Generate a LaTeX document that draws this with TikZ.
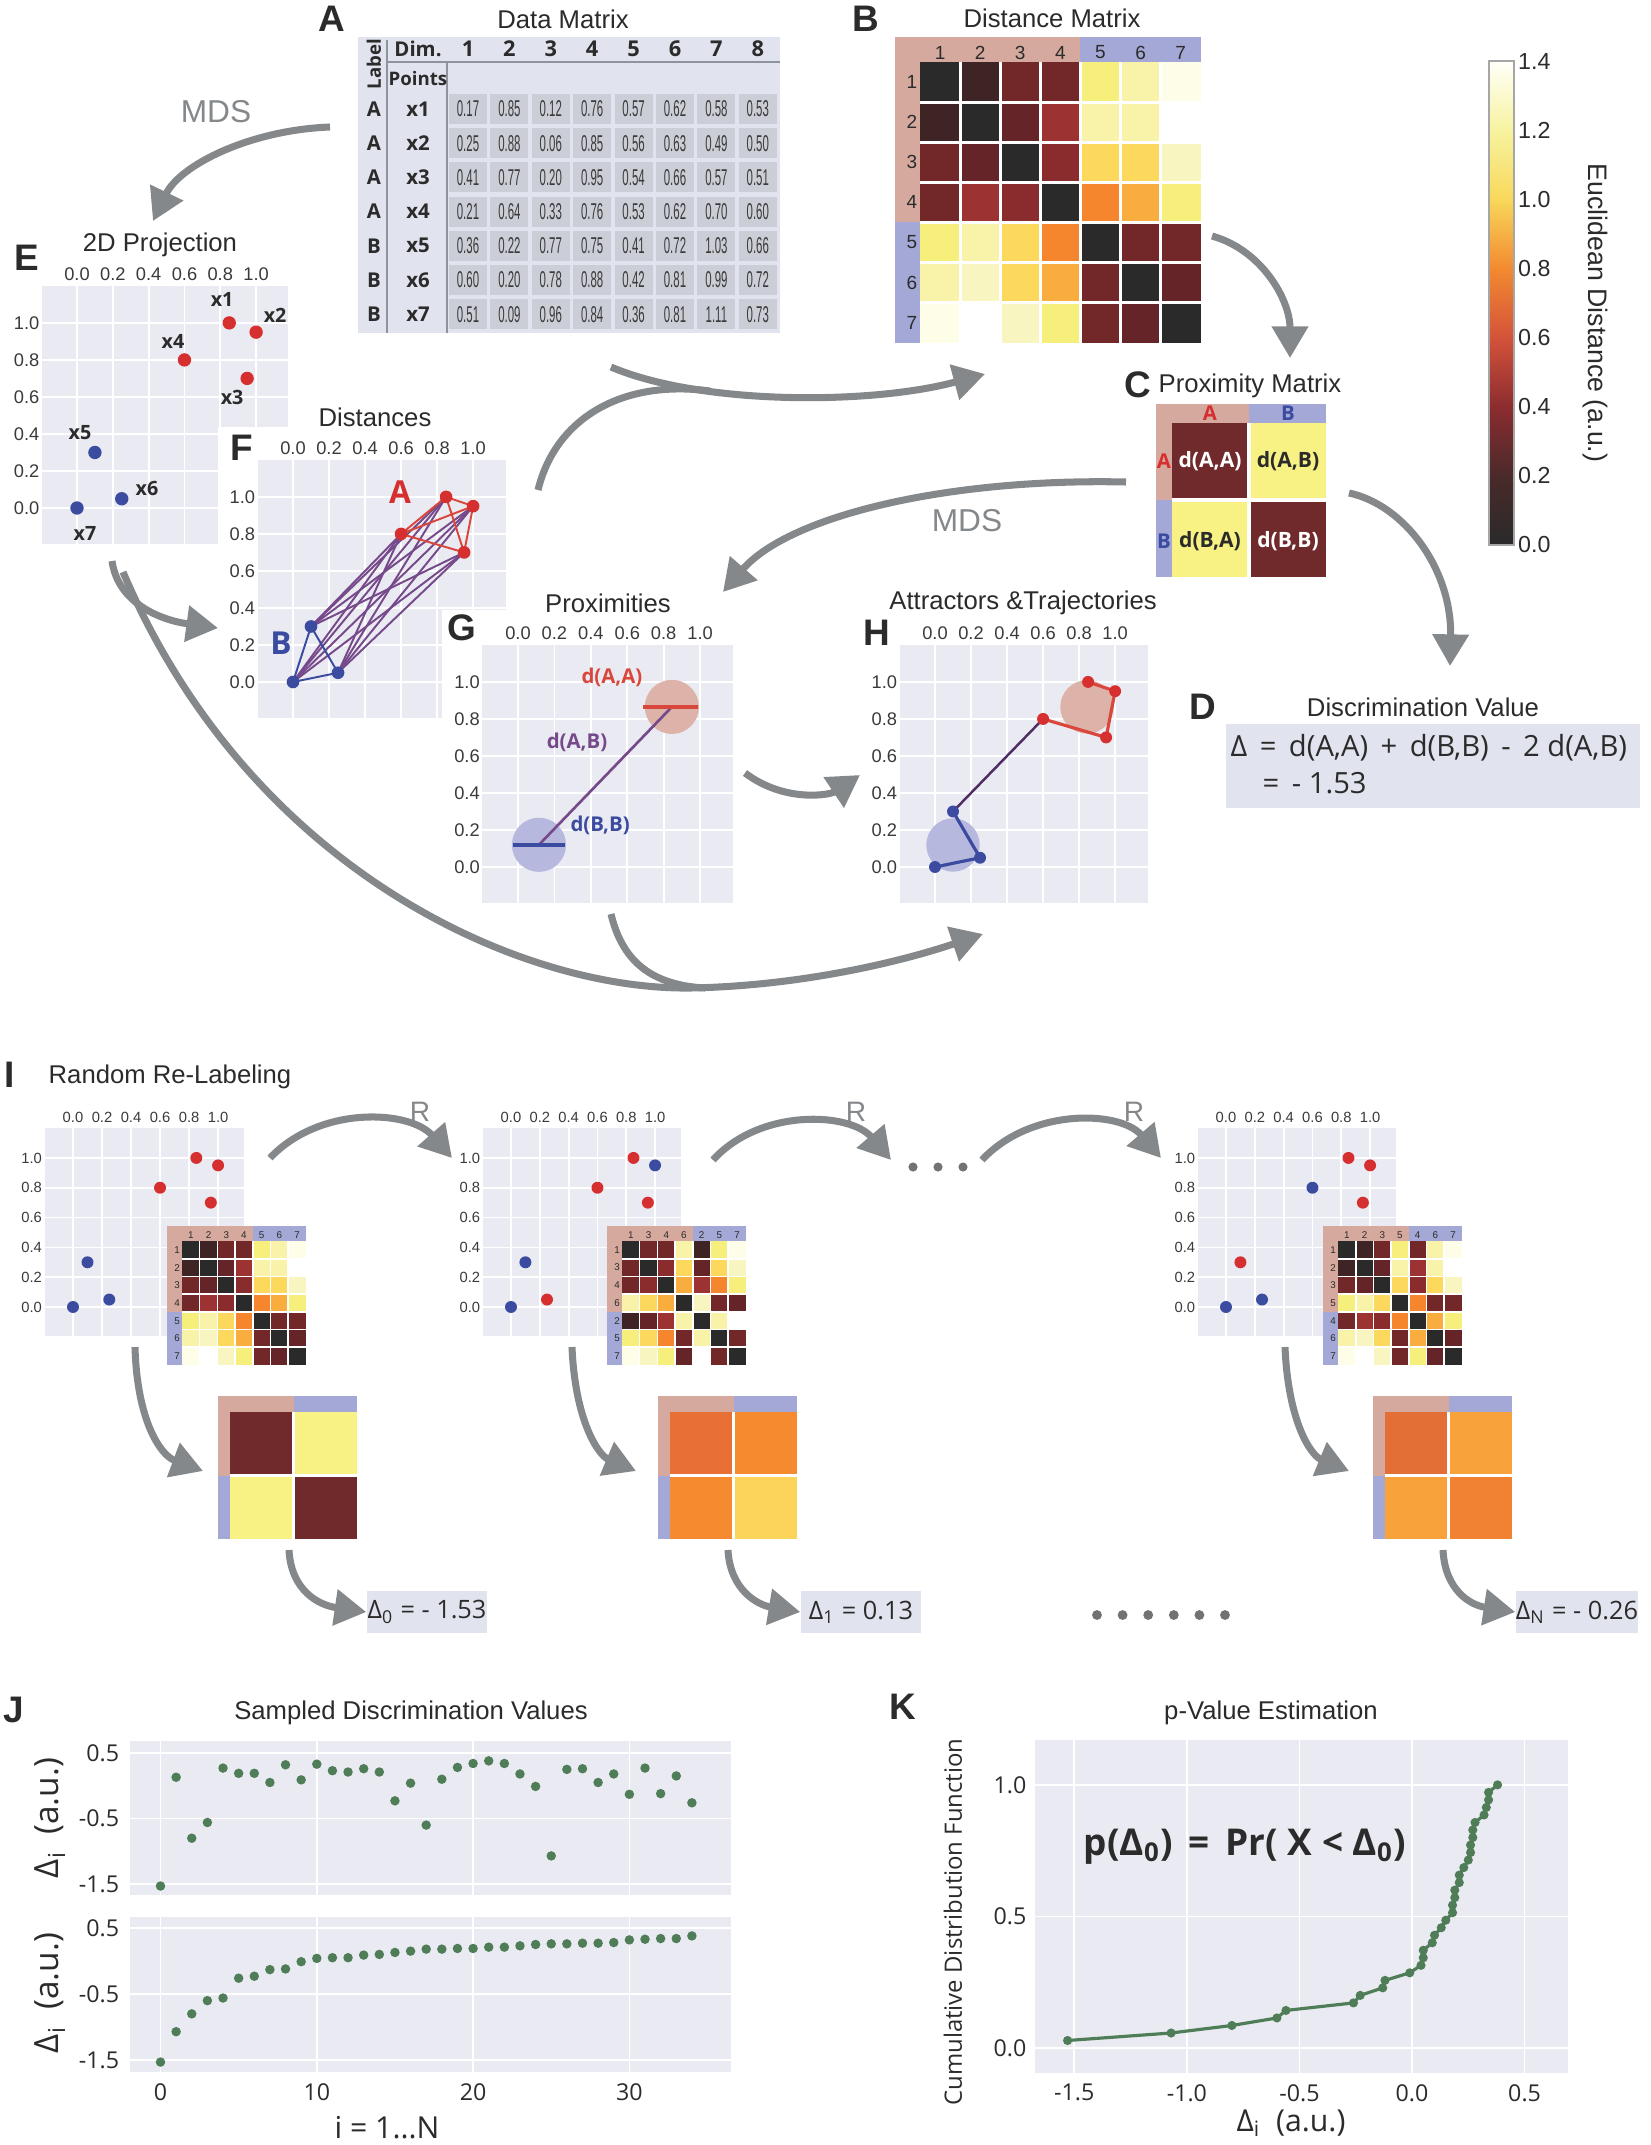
\documentclass[tikz,border=0pt]{standalone}
\usepackage{fontspec}
\setmainfont{Liberation Sans}
\newfontfamily\labfont{Open Sans}
\newfontfamily\numfont[FakeStretch=0.5]{Liberation Sans}
\usetikzlibrary{positioning,calc,arrows.meta}

\newcommand\fsz[1]{\fontsize{#1}{#1}\selectfont}

% general colours
\definecolor{inkgray}{HTML}{2B2B2B}
\definecolor{ticktext}{HTML}{3A3A3A}
\definecolor{arrowgray}{HTML}{85888B}
\definecolor{plotbg}{HTML}{EAEAF2}
\definecolor{tablebg}{HTML}{E1E4EE}
\definecolor{cellgray}{HTML}{CBCED6}
\definecolor{rulegray}{HTML}{8E939E}
\definecolor{bandA}{HTML}{D6A99E}
\definecolor{bandB}{HTML}{A4A8D6}
\definecolor{grpA}{HTML}{D62F2F}
\definecolor{grpB}{HTML}{3A4BA0}
\definecolor{edgeA}{HTML}{D9463B}
\definecolor{linkAB}{HTML}{75498A}
\definecolor{linkdark}{HTML}{4F2D64}
\definecolor{haloA}{HTML}{DDB3A9}
\definecolor{haloB}{HTML}{B7B8DE}
\definecolor{samplegreen}{HTML}{4E7D58}
\definecolor{boxgray}{HTML}{E1E4EE}
\definecolor{dotgray}{HTML}{707274}
% heat map colours
\definecolor{k0}{HTML}{2A2A2A}
\definecolor{k1}{HTML}{3E2424}
\definecolor{k2}{HTML}{652428}
\definecolor{k3}{HTML}{722829}
\definecolor{k4}{HTML}{8A2C2E}
\definecolor{k5}{HTML}{9D3232}
\definecolor{o1}{HTML}{F5862E}
\definecolor{o2}{HTML}{F9AD3E}
\definecolor{g1}{HTML}{FCD95C}
\definecolor{y1}{HTML}{F7EF7C}
\definecolor{y2}{HTML}{F8F3A8}
\definecolor{y3}{HTML}{F9F5C0}
\definecolor{w1}{HTML}{FDFDE8}
\definecolor{w0}{HTML}{FFFFFF}
\definecolor{pmMaroon}{HTML}{702A2C}
\definecolor{pmYellow}{HTML}{F7F283}
\definecolor{pmOa}{HTML}{E87035}
\definecolor{pmOb}{HTML}{F58A2F}
\definecolor{pmGold}{HTML}{FDD45A}
\definecolor{pmOc}{HTML}{E36E36}
\definecolor{pmOd}{HTML}{F7A23A}
\definecolor{pmOe}{HTML}{F08232}
% colour bar stops
\definecolor{cb0}{HTML}{2A2A2A}
\definecolor{cb1}{HTML}{4A2A2A}
\definecolor{cb2}{HTML}{8C2C30}
\definecolor{cb3}{HTML}{D4533A}
\definecolor{cb4}{HTML}{F28A30}
\definecolor{cb5}{HTML}{F8D85A}
\definecolor{cb6}{HTML}{F7F3A0}
\definecolor{cb7}{HTML}{FFFFFA}

% distance matrix entries
\newcommand\setdmrow[8]{\colorlet{dm#11}{#2}\colorlet{dm#12}{#3}\colorlet{dm#13}{#4}%
  \colorlet{dm#14}{#5}\colorlet{dm#15}{#6}\colorlet{dm#16}{#7}\colorlet{dm#17}{#8}}
\setdmrow{1}{k0}{k1}{k3}{k3}{y1}{y2}{w1}
\setdmrow{2}{k1}{k0}{k2}{k5}{y2}{y2}{w0}
\setdmrow{3}{k3}{k2}{k0}{k4}{g1}{g1}{y3}
\setdmrow{4}{k3}{k5}{k4}{k0}{o1}{o2}{y1}
\setdmrow{5}{y1}{y2}{g1}{o1}{k0}{k3}{k3}
\setdmrow{6}{y2}{y3}{g1}{o2}{k3}{k0}{k2}
\setdmrow{7}{w1}{w0}{y3}{y1}{k3}{k2}{k0}

\def\rawvals{-1.53,0.13,-0.80,-0.56,0.27,0.19,0.19,0.05,0.32,0.09,0.33,0.23,0.21,0.26,0.21,-0.23,0.04,-0.60,0.10,0.28,0.34,0.38,0.34,0.18,-0.01,-1.07,0.25,0.26,0.05,0.18,-0.13,0.27,-0.12,0.15,-0.26}
\def\sortedvals{-1.53,-1.07,-0.80,-0.60,-0.56,-0.26,-0.23,-0.13,-0.12,-0.01,0.04,0.05,0.05,0.09,0.10,0.13,0.15,0.18,0.18,0.19,0.19,0.21,0.21,0.23,0.25,0.26,0.26,0.27,0.27,0.28,0.32,0.33,0.34,0.34,0.38}

\tikzset{
  paneltag/.style={font={\fsz{10.5}\bfseries}, text=inkgray, inner sep=0pt},
  paneltitle/.style={font=\fsz{7.3}, text=inkgray, inner sep=0pt},
  ticklab/.style={text=ticktext, inner sep=0.6pt},
  gridline/.style={white, line width=0.5pt},
  tabhead/.style={font={\labfont\bfseries\fsz{5.8}}, text=inkgray, inner sep=0pt},
  tabcell/.style={fill=cellgray, minimum width=0.38cm, minimum height=0.30cm, inner sep=0pt,
    font={\numfont\fsz{6.5}}, text=ticktext},
  matlab/.style={text=inkgray, inner sep=0pt},
  grplab/.style={font={\labfont\bfseries\fsz{5.8}}, inner sep=0pt},
  celltext/.style={font={\labfont\bfseries\fsz{6}}, inner sep=0pt},
  ptlab/.style={font={\labfont\bfseries\fsz{5.6}}, text=inkgray, inner sep=0pt},
  distlab/.style={font={\labfont\bfseries\fsz{5.8}}, inner sep=0pt},
  flow/.style={draw=arrowgray, line width=2pt, -{Triangle[length=9pt,width=10pt]}},
  flowline/.style={draw=arrowgray, line width=2pt},
  steplab/.style={font=\fsz{8}, text=arrowgray, inner sep=0pt},
  deltabox/.style={fill=boxgray, inner sep=0pt, minimum width=1.2cm, minimum height=0.42cm,
    font={\labfont\fsz{7.2}}, text=inkgray},
  axlab/.style={font={\labfont\fsz{6.6}}, text=inkgray, inner sep=0pt},
  axtitle/.style={font={\labfont\fsz{8.6}}, text=inkgray, inner sep=0pt},
}

% frame of a small scatter panel, in data units
\newcommand\plotframe[1]{%
  \fill[plotbg] (-0.195,-0.195) rectangle (1.18,1.2);
  \foreach \tk in {0,0.2,0.4,0.6,0.8,1} {
    \draw[gridline] (\tk,-0.195) -- (\tk,1.2);
    \draw[gridline] (-0.195,\tk) -- (1.18,\tk);}
  \foreach \tk/\tx in {0/0.0,0.2/0.2,0.4/0.4,0.6/0.6,0.8/0.8,1/1.0} {
    \node[ticklab, font=#1, anchor=south, yshift=0.8pt] at (\tk,1.2) {\tx};
    \node[ticklab, font=#1, anchor=east] at (-0.195,\tk) {\tx};}
}

% heat map: x, y, cell, band, order, font, gap
\newcommand\distmat[7]{%
  \begin{scope}[shift={(#1,#2)}]
    \fill[bandA] (0,0) rectangle ({#4+4*#3},#4);
    \fill[bandA] (0,0) rectangle (#4,{#4+4*#3});
    \fill[bandB] ({#4+4*#3},0) rectangle ({#4+7*#3},#4);
    \fill[bandB] (0,{#4+4*#3}) rectangle (#4,{#4+7*#3});
    \foreach \pr [count=\ri] in {#5} {
      \node[matlab, font=#6] at ({#4+(\ri-0.5)*#3},{0.62*#4}) {\pr};
      \node[matlab, font=#6] at ({0.68*#4},{#4+(\ri-0.5)*#3}) {\pr};
      \foreach \pc [count=\cj] in {#5} {
        \edef\dmcol{dm\pr\pc}
        \fill[fill=\dmcol] ({#4+(\cj-1)*#3},{#4+(\ri-1)*#3}) rectangle ++(#3,#3);
      }
    }
    \foreach \kk in {1,...,6} {
      \draw[white, line width=#7] ({#4+\kk*#3},#4) -- ++(0,{7*#3});
      \draw[white, line width=#7] (#4,{#4+\kk*#3}) -- ++({7*#3},0);
    }
  \end{scope}}

% 2x2 proximity matrix: x, y, cell, top band, left band, four colours
\newcommand\proxmat[9]{%
  \begin{scope}[shift={(#1,#2)}]
    \fill[bandA] (0,0) rectangle ({#5+#3},#4);
    \fill[bandA] (0,0) rectangle (#5,{#4+#3});
    \fill[bandB] ({#5+#3},0) rectangle ({#5+2*#3},#4);
    \fill[bandB] (0,{#4+#3}) rectangle (#5,{#4+2*#3});
    \fill[#6] (#5,#4) rectangle ++(#3,#3);
    \fill[#7] ({#5+#3},#4) rectangle ++(#3,#3);
    \fill[#8] (#5,{#4+#3}) rectangle ++(#3,#3);
    \fill[#9] ({#5+#3},{#4+#3}) rectangle ++(#3,#3);
    \draw[white, line width=0.9pt] ({#5+#3},#4) -- ++(0,{2*#3});
    \draw[white, line width=0.9pt] (#5,{#4+#3}) -- ++({2*#3},0);
  \end{scope}}

\begin{document}
\begin{tikzpicture}[x=0.01cm, y=-0.01cm]
\useasboundingbox (0,0) rectangle (1650,2145);
\fill[white] (0,0) rectangle (1650,2145);

% ---------- A: data matrix
\node[paneltag] (tagA) at (332,19) {A};
\node[paneltitle] (titleA) at (563,19) {Data Matrix};
\fill[tablebg] (358,37) rectangle (780,333);
\draw[rulegray, line width=0.5pt] (387,40) -- (387,333);
\draw[rulegray, line width=0.5pt] (447,62) -- (447,333);
\draw[rulegray, line width=0.5pt] (387,62) -- (780,62);
\node[tabhead, font={\labfont\bfseries\fsz{5.3}}, rotate=90] (labelhead) at (374,64) {Label};
\node[tabhead] (dimhead) at (418,49) {Dim.};
\node[tabhead, font={\labfont\bfseries\fsz{5.3}}] (pointshead) at (418,79) {Points};
\foreach \kk in {1,...,8}
  \node[tabhead, font={\labfont\bfseries\fsz{6.2}}] (dim\kk) at ({468+(\kk-1)*41.4},49) {\kk};
\foreach \grp/\pnt/\vals [count=\ri] in {
    A/x1/{0.17,0.85,0.12,0.76,0.57,0.62,0.58,0.53},
    A/x2/{0.25,0.88,0.06,0.85,0.56,0.63,0.49,0.50},
    A/x3/{0.41,0.77,0.20,0.95,0.54,0.66,0.57,0.51},
    A/x4/{0.21,0.64,0.33,0.76,0.53,0.62,0.70,0.60},
    B/x5/{0.36,0.22,0.77,0.75,0.41,0.72,1.03,0.66},
    B/x6/{0.60,0.20,0.78,0.88,0.42,0.81,0.99,0.72},
    B/x7/{0.51,0.09,0.96,0.84,0.36,0.81,1.11,0.73}} {
  \node[tabhead] (lab\ri) at (374,{109+(\ri-1)*34.2}) {\grp};
  \node[tabhead] (pt\ri) at (418,{109+(\ri-1)*34.2}) {\pnt};
  \foreach \val [count=\cj] in \vals
    \node[tabcell] (cell\ri-\cj) at ({468+(\cj-1)*41.4},{109+(\ri-1)*34.2}) {\val};
}

% ---------- B: distance matrix
\node[paneltag] (tagB) at (866,19) {B};
\node[paneltitle] (titleB) at (1052,18) {Distance Matrix};
\distmat{895}{37}{40.1}{25}{1,2,3,4,5,6,7}{\fsz{5.4}}{0.9pt}

% colour bar
\foreach \ca/\cb [count=\kk from 0] in {cb0/cb1,cb1/cb2,cb2/cb3,cb3/cb4,cb4/cb5,cb5/cb6,cb6/cb7}
  \shade[bottom color=\ca, top color=\cb] (1489,{545-\kk*69.14+0.4}) rectangle (1514,{545-(\kk+1)*69.14-0.4});
\draw[gray!70, line width=0.4pt] (1489,61) rectangle (1514,545);
\foreach \lbl [count=\kk from 0] in {0.0,0.2,0.4,0.6,0.8,1.0,1.2,1.4}
  \node[font=\fsz{6.6}, text=inkgray, anchor=west, inner sep=1pt] (cbt\kk) at (1514,{545-\kk*69.14}) {\lbl};
\node[font=\fsz{7.6}, text=inkgray, rotate=-90] (cbtitle) at (1595,313) {Euclidean Distance (a.u.)};

% ---------- C: proximity matrix
\node[paneltag] (tagC) at (1138,385) {C};
\node[paneltitle, anchor=west] (titleC) at (1158,386) {Proximity Matrix};
\proxmat{1156}{404}{77}{19}{16}{pmMaroon}{pmYellow}{pmYellow}{pmMaroon}
\node[grplab, text=grpA] (cTopA) at (1210,413) {A};
\node[grplab, text=grpB] (cTopB) at (1288,413) {B};
\node[grplab, text=grpA] (cLeftA) at (1164,461) {A};
\node[grplab, text=grpB] (cLeftB) at (1164,541) {B};
\node[celltext, text=white] (cAA) at (1210,461) {d(A,A)};
\node[celltext, text=inkgray] (cAB) at (1288,461) {d(A,B)};
\node[celltext, text=inkgray] (cBA) at (1210,541) {d(B,A)};
\node[celltext, text=white] (cBB) at (1288,541) {d(B,B)};

% ---------- D: discrimination value
\node[paneltag] (tagD) at (1203,707) {D};
\node[paneltitle] (titleD) at (1423,707) {Discrimination Value};
\fill[boxgray] (1226,724) rectangle (1640,808);
\node[font={\labfont\fsz{8.3}}, text=inkgray, anchor=west, inner sep=0pt] (eqD1) at (1230,748) {Δ \,=\, d(A,A) \,+\, d(B,B) \,-\, 2 d(A,B)};
\node[font={\labfont\fsz{8.3}}, text=inkgray, anchor=west, inner sep=0pt] (eqD2) at (1262,783) {= \,- 1.53};

% ---------- E: 2D projection
\node[paneltag] (tagE) at (27,258) {E};
\node[paneltitle] (titleE) at (160,245) {2D Projection};
\begin{scope}[shift={(77,508)}, x=1.79cm, y=1.85cm]
  \plotframe{\fsz{5.2}}
  \foreach \px/\py/\col/\nm/\lx/\ly in {0.85/1.0/grpA/x1/0.81/1.124, 1.0/0.95/grpA/x2/1.106/1.043,
      0.95/0.7/grpA/x3/0.866/0.595, 0.6/0.8/grpA/x4/0.536/0.897, 0.1/0.3/grpB/x5/0.017/0.41,
      0.25/0.05/grpB/x6/0.391/0.103, 0/0/grpB/x7/0.045/-0.135} {
    \fill[\col] (\px,\py) circle (1.9pt);
    \node[ptlab] (e-\nm) at (\lx,\ly) {\nm};
  }
\end{scope}

% ---------- F: distances
\fill[white] (218,427) rectangle (515,725);
\node[paneltag] (tagF) at (242,448) {F};
\node[paneltitle] (titleF) at (375,417) {Distances};
\begin{scope}[shift={(293,682)}, x=1.8cm, y=1.85cm]
  \plotframe{\fsz{5.2}}
  \foreach \ax/\ay in {0.85/1.0,1.0/0.95,0.95/0.7,0.6/0.8}
    \foreach \bx/\by in {0.1/0.3,0.25/0.05,0/0}
      \draw[linkAB, line width=0.55pt] (\ax,\ay) -- (\bx,\by);
  \draw[edgeA, line width=0.55pt] (0.85,1.0) -- (1.0,0.95) -- (0.95,0.7) -- (0.6,0.8) -- cycle
    (0.85,1.0) -- (0.95,0.7) (1.0,0.95) -- (0.6,0.8);
  \draw[grpB, line width=0.55pt] (0.1,0.3) -- (0.25,0.05) -- (0,0) -- cycle;
  \foreach \px/\py/\col in {0.85/1.0/grpA,1.0/0.95/grpA,0.95/0.7/grpA,0.6/0.8/grpA,
      0.1/0.3/grpB,0.25/0.05/grpB,0/0/grpB}
    \fill[\col] (\px,\py) circle (1.8pt);
  \node[font={\labfont\bfseries\fsz{9}}, text=grpA, inner sep=0pt] (fA) at (0.594,1.027) {A};
  \node[font={\labfont\bfseries\fsz{9}}, text=grpB, inner sep=0pt] (fB) at (-0.067,0.21) {B};
\end{scope}

% ---------- G: proximities
\fill[white] (442,610) rectangle (745,910);
\node[paneltag] (tagG) at (462,628) {G};
\node[paneltitle] (titleG) at (608,603) {Proximities};
\begin{scope}[shift={(518,867)}, x=1.82cm, y=1.85cm]
  \plotframe{\fsz{5.2}}
  \fill[haloA] (0.845,0.865) circle (7.7pt);
  \fill[haloB] (0.115,0.12) circle (7.7pt);
  \draw[linkAB, line width=0.75pt] (0.115,0.12) -- (0.845,0.865);
  \draw[edgeA, line width=1pt] (0.687,0.865) -- (0.989,0.865);
  \draw[grpB, line width=1pt] (-0.027,0.12) -- (0.258,0.12);
  \node[distlab, text=edgeA] (gAA) at (0.516,1.022) {d(A,A)};
  \node[distlab, text=linkAB] (gAB) at (0.324,0.676) {d(A,B)};
  \node[distlab, text=grpB] (gBB) at (0.451,0.227) {d(B,B)};
\end{scope}

% ---------- H: attractors and trajectories
\node[paneltag] (tagH) at (877,633) {H};
\node[paneltitle] (titleH) at (1023,603) {Attractors \&Trajectories};
\begin{scope}[shift={(935,867)}, x=1.8cm, y=1.85cm]
  \plotframe{\fsz{5.2}}
  \fill[haloA] (0.844,0.865) circle (7.6pt);
  \fill[haloB] (0.1,0.119) circle (7.6pt);
  \draw[linkdark, line width=0.7pt] (0.6,0.8) -- (0.1,0.3);
  \draw[edgeA, line width=0.9pt] (0.85,1.0) -- (1.0,0.95) -- (0.95,0.7) -- (0.6,0.8);
  \draw[grpB, line width=0.9pt] (0.1,0.3) -- (0.25,0.05) -- (0,0);
  \foreach \px/\py/\col in {0.85/1.0/grpA,1.0/0.95/grpA,0.95/0.7/grpA,0.6/0.8/grpA,
      0.1/0.3/grpB,0.25/0.05/grpB,0/0/grpB}
    \fill[\col] (\px,\py) circle (1.7pt);
\end{scope}

% ---------- connectors of the upper part
\coordinate (mdsA-s) at (330,127);
\coordinate (mdsA-e) at (153,221);
\draw[flow] (mdsA-s) .. controls (250,130) and (180,165) .. (mdsA-e);
\node[steplab, font=\fsz{9}] (mdsTop) at (216,112) {MDS};

\coordinate (tab-s) at (611,367);
\coordinate (distB-e) at (985,374);
\coordinate (distF-s) at (538,490);
\coordinate (distJoin) at (710,391);
\draw[flow] (tab-s) .. controls (700,405) and (870,405) .. (distB-e);
\draw[flowline] (distF-s) .. controls (555,420) and (620,379) .. (distJoin);

\coordinate (distB-s) at (1212,236);
\coordinate (proxC-e) at (1290,358);
\draw[flow] (distB-s) .. controls (1262,250) and (1290,300) .. (proxC-e);

\coordinate (proxC-s) at (1126,482);
\coordinate (proxG-e) at (723,592);
\draw[flow] (proxC-s) .. controls (950,478) and (790,515) .. (proxG-e);
\node[steplab, font=\fsz{9}] (mdsMid) at (967,521) {MDS};

\coordinate (proxC-d) at (1349,493);
\coordinate (discD-e) at (1450,666);
\draw[flow] (proxC-d) .. controls (1405,505) and (1452,570) .. (discD-e);

\coordinate (projE-s) at (112,561);
\coordinate (distF-e) at (218,628);
\draw[flow] (projE-s) .. controls (118,603) and (160,620) .. (distF-e);

\coordinate (projE-t) at (123,572);
\coordinate (lowJoin) at (690,988);
\coordinate (attrH-e) at (983,934);
\draw[flow] (projE-t) .. controls (250,870) and (520,990) .. (lowJoin) .. controls (800,986) and (900,962) .. (attrH-e);
\coordinate (proxG-s) at (611,914);
\draw[flowline] (proxG-s) .. controls (622,960) and (650,985) .. (705,988);

\coordinate (proxG-r) at (745,773);
\coordinate (attrH-l) at (860,775);
\draw[flow] (proxG-r) .. controls (785,803) and (830,795) .. (attrH-l);

% ---------- I: random re-labeling
\node[paneltag] (tagI) at (10,1075) {I};
\node[paneltitle, anchor=west] (titleI) at (48,1077) {Random Re-Labeling};

\begin{scope}[shift={(73,1307)}, x=1.45cm, y=1.49cm]
  \plotframe{\fsz{4.2}}
  \foreach \px/\py/\col in {0.85/1.0/grpA,1.0/0.95/grpA,0.95/0.7/grpA,0.6/0.8/grpA,
      0.1/0.3/grpB,0.25/0.05/grpB,0/0/grpB}
    \fill[\col] (\px,\py) circle (1.7pt);
\end{scope}
\distmat{167}{1226}{17.7}{15}{1,2,3,4,5,6,7}{\fsz{2.8}}{0.45pt}

\begin{scope}[shift={(511,1307)}, x=1.44cm, y=1.49cm]
  \plotframe{\fsz{4.2}}
  \foreach \px/\py/\col in {0.85/1.0/grpA,1.0/0.95/grpB,0.95/0.7/grpA,0.6/0.8/grpA,
      0.1/0.3/grpB,0.25/0.05/grpA,0/0/grpB}
    \fill[\col] (\px,\py) circle (1.7pt);
\end{scope}
\distmat{607}{1226}{17.7}{15}{1,3,4,6,2,5,7}{\fsz{2.8}}{0.45pt}

\begin{scope}[shift={(1226,1307)}, x=1.44cm, y=1.49cm]
  \plotframe{\fsz{4.2}}
  \foreach \px/\py/\col in {0.85/1.0/grpA,1.0/0.95/grpA,0.95/0.7/grpA,0.6/0.8/grpB,
      0.1/0.3/grpA,0.25/0.05/grpB,0/0/grpB}
    \fill[\col] (\px,\py) circle (1.7pt);
\end{scope}
\distmat{1323}{1226}{17.7}{15}{1,2,3,5,4,6,7}{\fsz{2.8}}{0.45pt}

\proxmat{218}{1396}{63.5}{16}{12}{pmMaroon}{pmYellow}{pmYellow}{pmMaroon}
\proxmat{658}{1396}{63.5}{16}{12}{pmOa}{pmOb}{pmOb}{pmGold}
\proxmat{1373}{1396}{63.5}{16}{12}{pmOc}{pmOd}{pmOd}{pmOe}

% relabeling steps
\coordinate (relab1-s) at (270,1158);
\coordinate (relab1-e) at (452,1158);
\draw[flow] (relab1-s) .. controls (320,1105) and (410,1110) .. (relab1-e);
\node[steplab] (r1) at (420,1112) {R};
\coordinate (relab2-s) at (713,1160);
\coordinate (relab2-e) at (891,1160);
\draw[flow] (relab2-s) .. controls (760,1108) and (850,1112) .. (relab2-e);
\node[steplab] (r2) at (856,1112) {R};
\foreach \kk in {0,1,2}
  \fill[dotgray] ({913+\kk*25},1167) circle (1.3pt);
\coordinate (relab3-s) at (982,1160);
\coordinate (relab3-e) at (1161,1158);
\draw[flow] (relab3-s) .. controls (1030,1108) and (1120,1110) .. (relab3-e);
\node[steplab] (r3) at (1134,1112) {R};

% down to proximity matrices
\coordinate (scat1-s) at (135,1347);
\coordinate (prox1-e) at (203,1471);
\draw[flow] (scat1-s) .. controls (137,1420) and (160,1455) .. (prox1-e);
\coordinate (scat2-s) at (572,1347);
\coordinate (prox2-e) at (636,1471);
\draw[flow] (scat2-s) .. controls (575,1420) and (598,1455) .. (prox2-e);
\coordinate (scat3-s) at (1285,1347);
\coordinate (prox3-e) at (1349,1471);
\draw[flow] (scat3-s) .. controls (1288,1420) and (1310,1455) .. (prox3-e);

% sampled values
\node[deltabox] (delta0) at (427,1612) {Δ\textsubscript{0} = - 1.53};
\node[deltabox] (delta1) at (861,1612) {Δ\textsubscript{1} = 0.13};
\node[deltabox] (deltaN) at (1577,1612) {Δ\textsubscript{N} = - 0.26};
\coordinate (prox1-s) at (289,1550);
\coordinate (prox2-s) at (728,1550);
\coordinate (prox3-s) at (1443,1550);
\draw[flow] (prox1-s) .. controls (291,1590) and (318,1605) .. (delta0.west);
\draw[flow] (prox2-s) .. controls (730,1590) and (758,1605) .. (delta1.west);
\draw[flow] (prox3-s) .. controls (1445,1590) and (1470,1605) .. (deltaN.west);
\foreach \kk in {0,...,5}
  \fill[dotgray] ({1097+\kk*25.6},1615) circle (1.4pt);

% ---------- J: sampled discrimination values
\node[paneltag] (tagJ) at (14,1710) {J};
\node[paneltitle] (titleJ) at (411,1713) {Sampled Discrimination Values};
\begin{scope}[shift={(160.5,1785.75)}, x=0.1562cm, y=0.655cm]
  \fill[plotbg] (-1.95,-1.668) rectangle (36.5,0.683);
  \foreach \tk in {0,10,20,30} \draw[gridline] (\tk,-1.668) -- (\tk,0.683);
  \foreach \tk in {0.5,-0.5,-1.5} {
    \draw[gridline] (-1.95,\tk) -- (36.5,\tk);
    \node[axlab, anchor=east] at (-2.6,\tk) {\tk};}
  \foreach \val [count=\kk from 0] in \rawvals
    \fill[samplegreen] (\kk,\val) circle (1.35pt);
\end{scope}
\begin{scope}[shift={(160.5,1961)}, x=0.1562cm, y=0.66cm]
  \fill[plotbg] (-1.95,-1.68) rectangle (36.5,0.667);
  \foreach \tk in {0,10,20,30} {
    \draw[gridline] (\tk,-1.68) -- (\tk,0.667);
    \node[axlab, anchor=north, yshift=-3pt] at (\tk,-1.68) {\tk};}
  \foreach \tk in {0.5,-0.5,-1.5} {
    \draw[gridline] (-1.95,\tk) -- (36.5,\tk);
    \node[axlab, anchor=east] at (-2.6,\tk) {\tk};}
  \foreach \val [count=\kk from 0] in \sortedvals
    \fill[samplegreen] (\kk,\val) circle (1.35pt);
\end{scope}
\node[axtitle, font={\labfont\fsz{9.5}}, rotate=90] (jy1) at (50,1818) {Δ\textsubscript{i}\enspace(a.u.)};
\node[axtitle, font={\labfont\fsz{9.5}}, rotate=90] (jy2) at (50,1993) {Δ\textsubscript{i}\enspace(a.u.)};
\node[axtitle] (jx) at (387,2128) {i = 1...N};

% ---------- K: p-value estimation
\node[paneltag] (tagK) at (903,1707) {K};
\node[paneltitle] (titleK) at (1271,1713) {p-Value Estimation};
\begin{scope}[shift={(1412,2048)}, x=2.25cm, y=2.63cm]
  \fill[plotbg] (-1.676,-0.095) rectangle (0.693,1.171);
  \foreach \tk/\tx in {-1.5/-1.5,-1/-1.0,-0.5/-0.5,0/0.0,0.5/0.5} {
    \draw[gridline] (\tk,-0.095) -- (\tk,1.171);
    \node[axlab, anchor=north, yshift=-3pt] at (\tk,-0.095) {\tx};}
  \foreach \tk/\tx in {0/0.0,0.5/0.5,1/1.0} {
    \draw[gridline] (-1.676,\tk) -- (0.693,\tk);
    \node[axlab, anchor=east] at (-1.71,\tk) {\tx};}
  \draw[samplegreen, line width=0.9pt] (-1.53,{1/35})
    \foreach \val [count=\kk from 2] in {-1.07,-0.80,-0.60,-0.56,-0.26,-0.23,-0.13,-0.12,-0.01,0.04,0.05,0.05,0.09,0.10,0.13,0.15,0.18,0.18,0.19,0.19,0.21,0.21,0.23,0.25,0.26,0.26,0.27,0.27,0.28,0.32,0.33,0.34,0.34,0.38} { -- (\val,{\kk/35}) };
  \foreach \val [count=\kk] in \sortedvals
    \fill[samplegreen] (\val,{\kk/35}) circle (1.3pt);
\end{scope}
\node[font={\labfont\bfseries\fsz{10.5}}, text=inkgray, inner sep=0pt] (pformula) at (1245,1847)
  {p(Δ\textsubscript{0}) \,=\, Pr( X \textless{} Δ\textsubscript{0})};
\node[axtitle, font={\labfont\fsz{6.8}}, rotate=90] (ky) at (953,1922) {Cumulative Distribution Function};
\node[axtitle] (kx) at (1291,2123) {Δ\textsubscript{i}\enspace(a.u.)};

\end{tikzpicture}
\end{document}
